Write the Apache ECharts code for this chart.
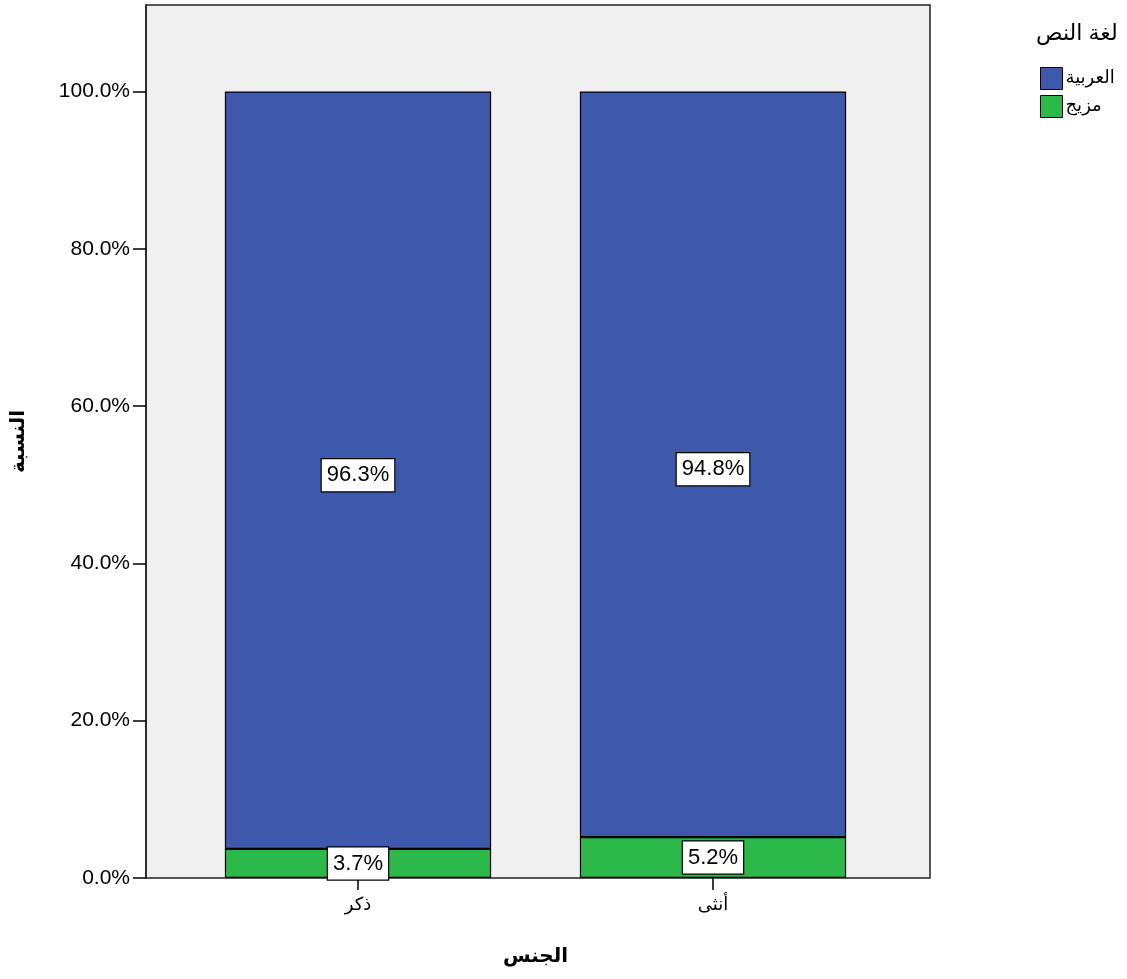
<!DOCTYPE html>
<html><head><meta charset="utf-8">
<script src="https://cdn.jsdelivr.net/npm/echarts@6/dist/echarts.min.js"></script>
<style>html,body{margin:0;padding:0;background:#fff;}#c{width:1127px;height:979px;}</style>
</head><body><div id="c"></div>
<script>
const categories = ['ذكر', 'أنثى'];
const seriesNames = ['العربية', 'مزيج'];
const arabicValues = [96.3, 94.8];
const mixedValues = [3.7, 5.2];
const yTicks = [0, 20, 40, 60, 80, 100];

const FONT = 'Liberation Sans, Arial, DejaVu Sans, sans-serif';
const chart = echarts.init(document.getElementById('c'));
const lbl = {
  show: true, position: 'inside', color: '#000', fontFamily: FONT, fontSize: 22,
  backgroundColor: '#fff', borderColor: '#000', borderWidth: 1.2, padding: [6, 5, 4, 5],
  formatter: p => p.value.toFixed(1) + '%'
};
chart.setOption({
  animation: false,
  backgroundColor: '#fff',
  title: {
    text: 'لغة النص', left: 1031, top: 18,
    textStyle: { fontFamily: FONT, fontSize: 22, fontWeight: 'normal', color: '#000' }
  },
  legend: {
    data: seriesNames, orient: 'vertical', left: 1035, top: 62, itemGap: 5,
    icon: 'rect', itemWidth: 22, itemHeight: 22, align: 'left', itemStyle: { borderColor: '#000', borderWidth: 1 },
    textStyle: { fontFamily: FONT, fontSize: 18, color: '#000', padding: [0, 0, 0, -2] }
  },
  grid: [
    { left: 141, top: 5, width: 789, height: 873, show: true, backgroundColor: '#f0f0f0',
      borderColor: '#222', borderWidth: 1.5 },
    { left: 180.5, top: 5, width: 710, height: 873 }
  ],
  xAxis: [
    { gridIndex: 0, type: 'value', min: 0, max: 1, show: false },
    { gridIndex: 1, type: 'category', data: categories,
      name: 'الجنس', nameLocation: 'middle', nameGap: 68,
      nameTextStyle: { fontFamily: FONT, fontSize: 20, fontWeight: 'bold', color: '#000' },
      axisLine: { show: false },
      axisTick: { show: true, alignWithLabel: true, length: 12, lineStyle: { color: '#000', width: 1.5 }, interval: 0 },
      axisLabel: { fontFamily: FONT, fontSize: 18, color: '#000', margin: 18 }
    }
  ],
  yAxis: [
    { gridIndex: 0, type: 'value', min: 0, max: 111, interval: 20,
      name: 'النسبة', nameLocation: 'middle', nameGap: 118, nameRotate: 90,
      nameTextStyle: { fontFamily: FONT, fontSize: 20, fontWeight: 'bold', color: '#000' },
      axisLine: { show: true, lineStyle: { color: '#222', width: 1.5 } },
      axisTick: { show: true, length: 13, lineStyle: { color: '#000', width: 1.5 } },
      splitLine: { show: false },
      axisLabel: { fontFamily: FONT, fontSize: 21, color: '#000', margin: 16, showMaxLabel: false,
        padding: [10, 0, 0, 0],
        formatter: v => yTicks.includes(v) ? v.toFixed(1) + '%' : '' }
    },
    { gridIndex: 1, type: 'value', min: 0, max: 111, show: false, splitLine: { show: false } }
  ],
  series: [
    { name: 'مزيج', type: 'bar', stack: 's', xAxisIndex: 1, yAxisIndex: 1, barWidth: '75%',
      data: mixedValues, itemStyle: { color: '#2db84a', borderColor: '#000', borderWidth: 1.2 }, label: lbl },
    { name: 'العربية', type: 'bar', stack: 's', xAxisIndex: 1, yAxisIndex: 1, barWidth: '75%',
      data: arabicValues, itemStyle: { color: '#3e58ac', borderColor: '#000', borderWidth: 1.2 },
      label: Object.assign({}, lbl, { offset: [0, 5] }) }
  ]
});
</script></body></html>
